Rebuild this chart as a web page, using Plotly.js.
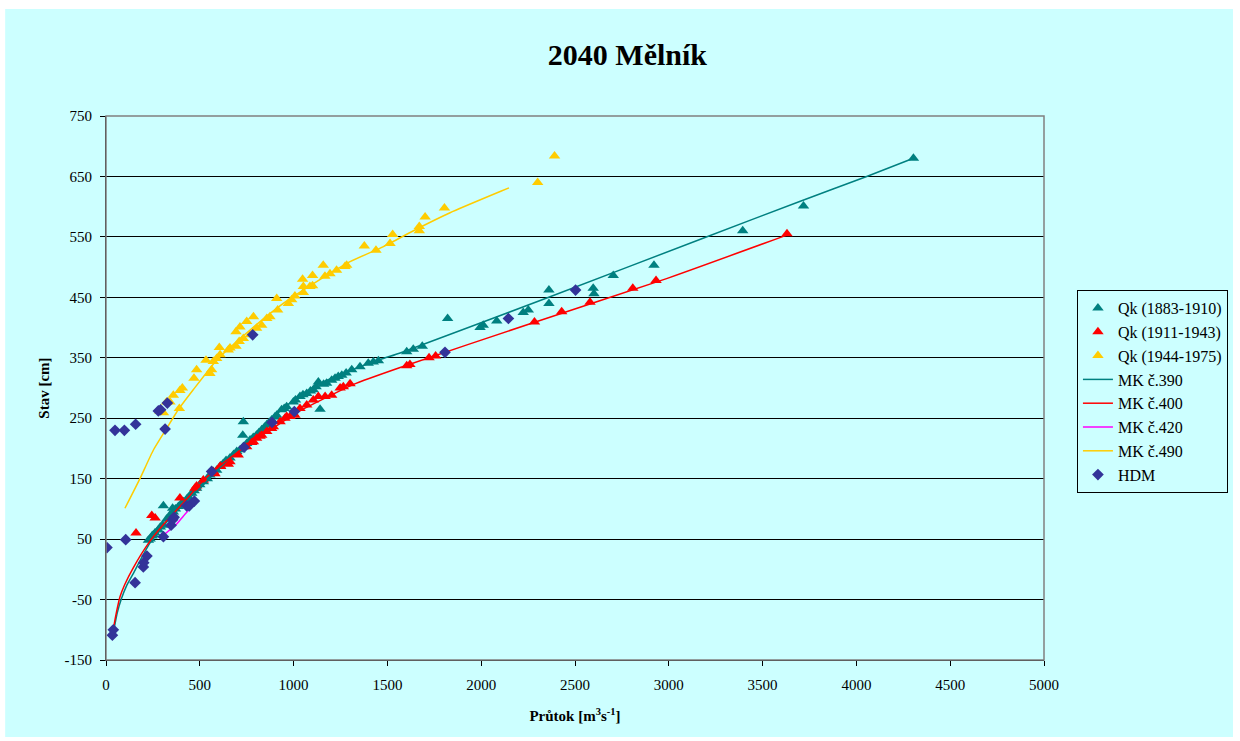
<!DOCTYPE html>
<html>
<head>
<meta charset="utf-8">
<script src="https://cdn.plot.ly/plotly-3.0.1.min.js"></script>
<style>html,body{margin:0;padding:0;background:#fff;}#chart{width:1240px;height:741px;}</style>
</head>
<body>
<div id="chart"></div>
<script>
// Qk (1883-1910) measured points [Q, H]
const qk1883 = [[226,48],[235,50],[245,55],[252,57],[261,60],[279,65],[290,70],[302,73],[306,105],[323,83],[341,90],[355,101],[359,95],[370,100],[386,104],[400,108],[412,112],[430,116],[439,119],[457,126],[470,130],[483,134],[500,140],[519,145],[540,150],[554,156],[570,160],[590,164],[610,171],[625,175],[640,180],[661,184],[680,190],[697,195],[715,198],[729,222],[732,244],[732,203],[750,208],[768,214],[785,218],[803,222],[815,226],[830,231],[845,235],[857,239],[870,243],[883,247],[900,252],[910,255],[936,264],[950,266],[963,269],[999,277],[1010,280],[1034,286],[1050,289],[1070,291],[1090,295],[1105,297],[1120,302],[1132,310],[1141,265],[1160,306],[1176,308],[1203,313],[1221,316],[1238,319],[1257,321],[1280,325],[1310,330],[1354,335],[1398,341],[1425,343],[1452,345],[1603,360],[1638,364],[1686,369],[1821,415],[1994,400],[2011,404],[2083,411],[2224,425],[2251,429],[2361,440],[2361,462],[2597,465],[2601,456],[2704,486],[2921,503],[3394,560],[3718,601],[4304,680]];
// Qk (1911-1943)
const qk1911 = [[160,60],[244,89],[262,85],[394,118],[474,134],[483,138],[519,148],[572,162],[581,158],[608,170],[611,170],[652,174],[661,178],[705,189],[750,203],[777,210],[786,211],[803,217],[821,220],[830,222],[857,228],[883,233],[892,236],[928,244],[954,250],[963,253],[981,253],[999,258],[1007,255],[1034,266],[1070,272],[1105,280],[1132,286],[1168,286],[1203,288],[1248,300],[1265,302],[1301,307],[1603,337],[1620,339],[1722,350],[1757,353],[2284,409],[2429,426],[2580,442],[2808,465],[2932,478],[3630,555]];
// Qk (1944-1975)
const qk1944 = [[288,261],[306,259],[323,277],[341,277],[359,288],[391,266],[394,296],[407,300],[469,316],[483,330],[533,346],[554,324],[563,330],[572,344],[590,349],[604,367],[608,355],[652,363],[661,366],[693,369],[693,393],[710,377],[714,401],[732,382],[750,410],[768,388],[786,418],[803,399],[830,404],[857,415],[874,418],[910,448],[915,429],[972,440],[990,446],[1007,452],[1048,480],[1052,468],[1052,458],[1087,468],[1101,469],[1101,486],[1158,503],[1167,485],[1194,489],[1229,495],[1274,501],[1283,503],[1377,535],[1439,528],[1514,539],[1528,554],[1670,560],[1670,567],[1701,583],[1804,598],[2301,640],[2391,684]];
// Rating curves
const mk390 = [[45,-95],[60,-72],[83,-48],[110,-27],[140,-10],[231,42],[323,78],[412,108],[501,134],[600,166],[714,201],[857,243],[1034,288],[1212,318],[1461,347],[1568,358],[2367,451],[3193,549],[3701,609],[4055,650],[4304,680]];
const mk400 = [[40,-97],[55,-72],[75,-45],[100,-25],[146,3],[226,43],[306,74],[412,110],[519,147],[626,176],[804,216],[1034,262],[1212,290],[1319,306],[1568,334],[2277,408],[2988,481],[3629,553]];
const mk420 = [[300,55],[377,75],[412,88],[470,108]];
const mk490 = [[101,101],[181,150],[252,197],[323,233],[385,264],[465,297],[590,346],[768,396],[945,440],[1123,476],[1301,509],[1479,534],[1656,563],[1834,590],[2101,625],[2148,631]];
// HDM
const hdm = [[5,36],[34,-109],[39,-100],[48,230],[98,230],[105,49],[155,-22],[158,240],[199,4],[201,11],[218,22],[279,262],[291,264],[306,54],[315,232],[327,275],[347,73],[355,82],[363,86],[430,105],[444,105],[471,113],[563,162],[736,202],[782,388],[885,243],[1004,261],[1807,359],[2145,415],[2503,462]];

const xTicks = [0,500,1000,1500,2000,2500,3000,3500,4000,4500,5000];
const yTicks = [-150,-50,50,150,250,350,450,550,650,750];

const X = a => a.map(p => p[0]);
const Y = a => a.map(p => p[1]);
const serif = "'Liberation Serif', 'Times New Roman', serif";

const tri = (name, d, color) => ({type:'scatter', mode:'markers', name, x:X(d), y:Y(d),
  marker:{symbol:'triangle-up', size:10, color, line:{width:0}}});
const ln = (name, d, color) => ({type:'scatter', mode:'lines', name, x:X(d), y:Y(d),
  line:{color, width:1.5, shape:'spline', smoothing:0.5}});

const traces = [
  tri('Qk (1883-1910)', qk1883, '#008080'),
  tri('Qk (1911-1943)', qk1911, '#FF0000'),
  tri('Qk (1944-1975)', qk1944, '#FFCC00'),
  ln('MK č.390', mk390, '#008080'),
  ln('MK č.400', mk400, '#FF0000'),
  ln('MK č.420', mk420, '#FF00FF'),
  ln('MK č.490', mk490, '#FFCC00'),
  {type:'scatter', mode:'markers', name:'HDM', x:X(hdm), y:Y(hdm),
   marker:{symbol:'diamond', size:9, color:'#333399', line:{width:0}}}
];

const layout = {
  width:1240, height:741,
  margin:{l:106, r:196, t:116, b:81},
  paper_bgcolor:'#FFFFFF', plot_bgcolor:'#CCFFFF',
  font:{family:serif, size:15, color:'#000'},
  title:{text:'<b>2040 Mělník</b>', font:{family:serif, size:30, color:'#000'},
         x:0.506, xref:'container', y:0.926, yref:'container', yanchor:'middle'},
  showlegend:true,
  legend:{xref:'container', yref:'container', x:0.8685, y:0.6085, xanchor:'left', yanchor:'top', bgcolor:'#CCFFFF',
          bordercolor:'#000', borderwidth:1, font:{family:serif, size:16, color:'#000'},
          traceorder:'normal'},
  xaxis:{range:[0,5000], tickvals:xTicks, ticktext:xTicks.map(String), showgrid:false, zeroline:false,
         showline:true, linecolor:'#000', linewidth:1, ticks:'outside', ticklen:5, tickcolor:'#000',
         ticklabelstandoff:6, tickfont:{family:serif, size:15}, fixedrange:true, automargin:false,
         title:{text:'<b>Průtok [m<sup>3</sup>s<sup>-1</sup>]</b>', font:{family:serif, size:15}, standoff:18}},
  yaxis:{range:[-150,750], tickvals:yTicks, ticktext:yTicks.map(String), showgrid:true, gridcolor:'#000', gridwidth:1,
         zeroline:false, showline:true, linecolor:'#000', linewidth:1, ticks:'outside', ticklen:5, tickcolor:'#000',
         ticklabelstandoff:5, tickfont:{family:serif, size:15}, fixedrange:true, automargin:false,
         title:{text:'<b>Stav [cm]</b>', font:{family:serif, size:15}, standoff:11}},
  shapes:[
    {type:'rect', xref:'paper', yref:'paper', x0:-0.1075, x1:1.2015, y0:-0.1415, y1:1.1967,
     fillcolor:'#CCFFFF', line:{width:0}, layer:'below'},
    {type:'rect', xref:'paper', yref:'paper', x0:0, x1:1, y0:0, y1:1,
     fillcolor:'rgba(0,0,0,0)', line:{color:'#808080', width:1.5}, layer:'above'}
  ]
};

Plotly.newPlot('chart', traces, layout, {displayModeBar:false, staticPlot:true});
</script>
</body>
</html>
